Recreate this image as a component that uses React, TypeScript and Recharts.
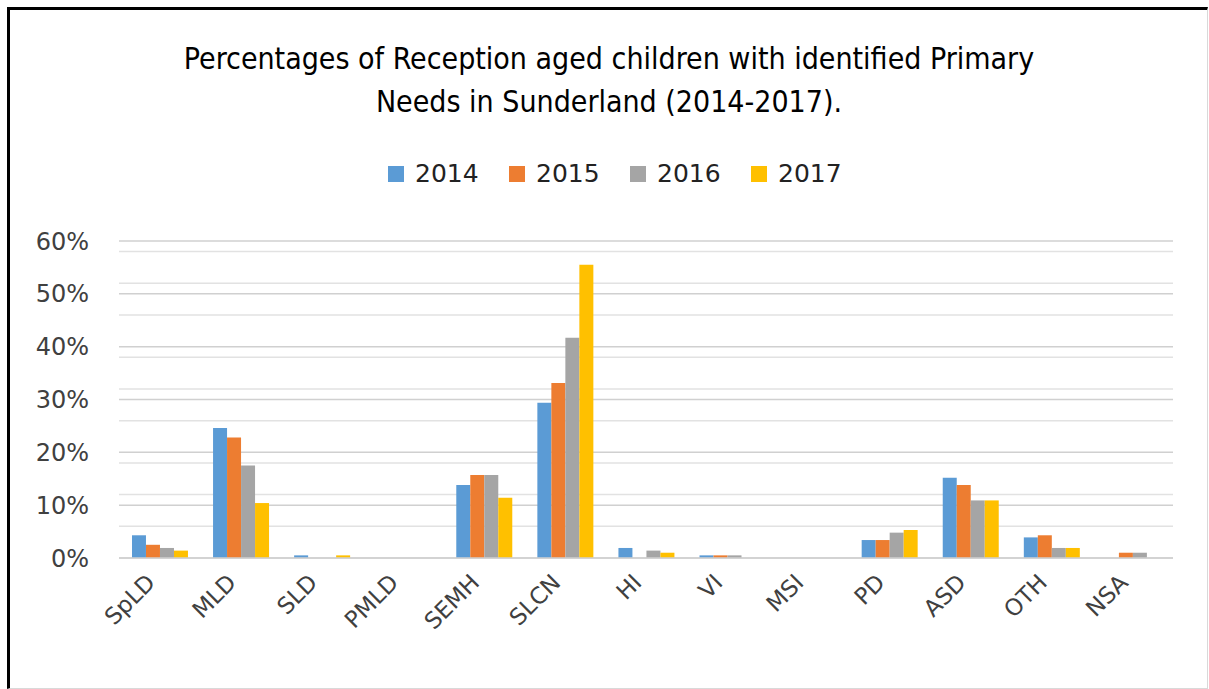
import React from 'react';
import { BarChart, Bar, XAxis, YAxis, CartesianGrid } from 'recharts';

const categories = ['SpLD', 'MLD', 'SLD', 'PMLD', 'SEMH', 'SLCN', 'HI', 'VI', 'MSI', 'PD', 'ASD', 'OTH', 'NSA'];
const y2014 = [4.3, 24.6, 0.5, 0, 13.8, 29.4, 1.9, 0.5, 0, 3.4, 15.2, 3.9, 0];
const y2015 = [2.5, 22.8, 0, 0, 15.7, 33.1, 0, 0.5, 0, 3.4, 13.8, 4.3, 1.0];
const y2016 = [1.9, 17.5, 0, 0, 15.7, 41.7, 1.4, 0.5, 0, 4.8, 10.9, 1.9, 1.0];
const y2017 = [1.4, 10.4, 0.5, 0, 11.4, 55.5, 1.0, 0, 0, 5.3, 10.9, 1.9, 0];

const seriesNames = ['2014', '2015', '2016', '2017'];
const seriesColors = ['#5b9bd5', '#ed7d31', '#a5a5a5', '#ffc000'];
const seriesValues = [y2014, y2015, y2016, y2017];

const majorTicks = [0, 10, 20, 30, 40, 50, 60];
const minorLines = [2, 4, 6, 8, 12, 14, 16, 18, 22, 24, 26, 28, 32, 34, 36, 38, 42, 44, 46, 48, 52, 54, 56, 58];

const titleLines = [
    'Percentages of Reception aged children with identified Primary',
    'Needs in Sunderland (2014-2017).',
];

const data = categories.map((name, i) => {
    const row: any = { name };
    seriesNames.forEach((s, j) => {
        row[s] = seriesValues[j][i];
    });
    return row;
});

const font = '"DejaVu Sans", sans-serif';
const titleFont = '"DejaVu Sans Condensed", "DejaVu Sans", sans-serif';
const textColor = '#404040';

// rotated category label, end of the text sits below-left of the tick
function CategoryTick(props: any) {
    const { x, y, payload } = props;
    const px = x - 3;
    const py = y + 26;
    return (
        <text
            x={px}
            y={py}
            transform={`rotate(-45, ${px}, ${py})`}
            textAnchor="end"
            fontSize={23}
            fill={textColor}
            fontFamily={font}
        >
            {payload.value}
        </text>
    );
}

export default function App() {
    return (
        <div style={{ position: 'absolute', left: 0, top: 0, width: 1209, height: 689, background: '#fff', fontFamily: font }}>
            <div
                style={{
                    position: 'absolute', left: 7, top: 7, width: 1201, height: 682, boxSizing: 'border-box',
                    borderTop: '3px solid #000', borderLeft: '3px solid #000',
                    borderRight: '1px solid #d9d9d9', borderBottom: '1px solid #d9d9d9',
                }}
            />
            {titleLines.map((t, i) => (
                <div
                    key={i}
                    style={{
                        position: 'absolute', left: 0, width: 1218, top: 42 + i * 43, textAlign: 'center',
                        fontSize: 30, lineHeight: '34px', color: '#000', whiteSpace: 'pre', fontFamily: titleFont,
                    }}
                >
                    {t}
                </div>
            ))}
            <div style={{ position: 'absolute', left: 388, top: 158, display: 'flex' }}>
                {seriesNames.map((s, i) => (
                    <div key={s} style={{ width: 121, display: 'flex', alignItems: 'center' }}>
                        <span style={{ width: 16, height: 16, background: seriesColors[i], marginRight: 11 }} />
                        <span style={{ fontSize: 25, lineHeight: '32px', color: '#222' }}>{s}</span>
                    </div>
                ))}
            </div>
            <div style={{ position: 'absolute', left: 0, top: 0 }}>
                <BarChart
                    width={1209}
                    height={689}
                    data={data}
                    margin={{ top: 241, right: 36, bottom: 51, left: 39 }}
                    barCategoryGap="16%"
                    barGap={0}
                >
                    <CartesianGrid vertical={false} horizontalValues={minorLines} stroke="#e2e2e2" strokeWidth={1.5} />
                    <CartesianGrid vertical={false} stroke="#d0d0d0" strokeWidth={1.5} />
                    <XAxis
                        dataKey="name"
                        interval={0}
                        tickLine={false}
                        axisLine={{ stroke: '#d0d0d0', strokeWidth: 1.5 }}
                        height={80}
                        tickSize={0}
                        tickMargin={0}
                        tick={<CategoryTick />}
                    />
                    <YAxis
                        domain={[0, 60]}
                        ticks={majorTicks}
                        tickFormatter={(v) => `${v}%`}
                        axisLine={false}
                        tickLine={false}
                        width={80}
                        tickSize={0}
                        tickMargin={30}
                        tick={{ fontSize: 24, fill: textColor, fontFamily: font }}
                    />
                    {seriesNames.map((s, i) => (
                        <Bar key={s} dataKey={s} fill={seriesColors[i]} isAnimationActive={false} />
                    ))}
                </BarChart>
            </div>
        </div>
    );
}
